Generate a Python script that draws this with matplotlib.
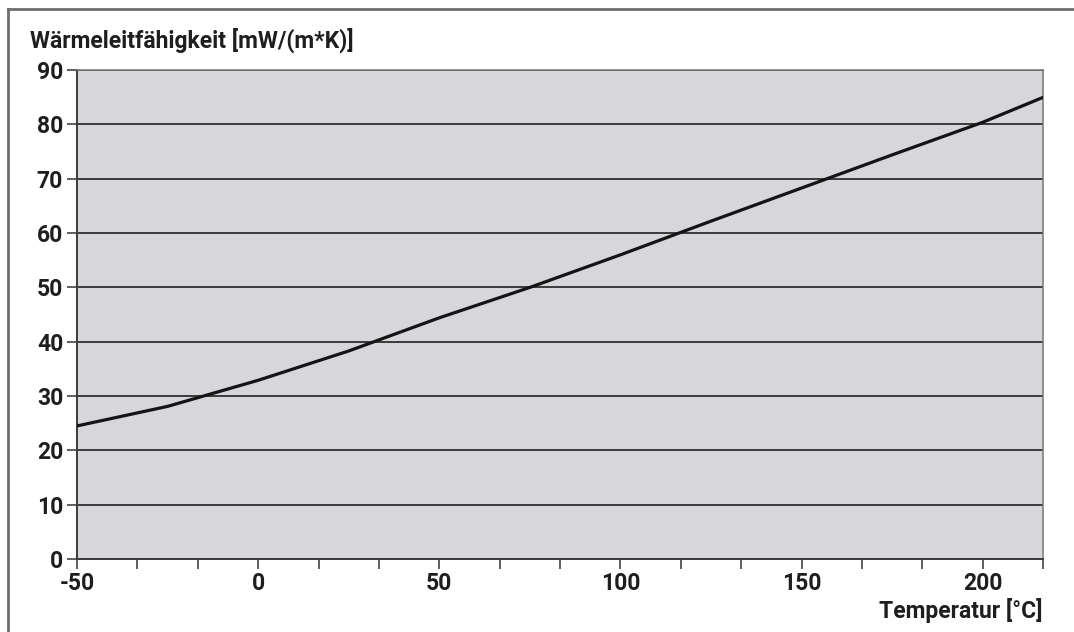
import matplotlib

matplotlib.use("Agg")
import matplotlib.pyplot as plt
from matplotlib.lines import Line2D

# Wärmeleitfähigkeit über Temperatur
temperatur = [-50, -25, 0, 25, 50, 75, 100, 125, 150, 175, 200, 216.7]
lambda_mw = [24.5, 28.1, 32.9, 38.3, 44.4, 50.0, 56.0, 62.2, 68.3, 74.4, 80.4, 85.0]

x_ticks = [-50 + i * 50 / 3 for i in range(17)]
x_labels = ["-50", "", "", "0", "", "", "50", "", "", "100", "", "", "150", "", "", "200", ""]
y_ticks = list(range(0, 100, 10))

plt.rcParams["font.family"] = ["Roboto", "Liberation Sans", "DejaVu Sans"]
plt.rcParams["font.weight"] = "semibold"
TXT = "#1e1e1e"
FS = 16.5

fig = plt.figure(figsize=(10.74, 6.32), dpi=100)
ax = fig.add_axes([0.0717, 0.1155, 0.8995, 0.7735])
ax.set_facecolor("#d7d7db")

ax.plot(temperatur, lambda_mw, color="#141414", lw=2.3, zorder=4)

ax.set_xlim(-50, 650 / 3)
ax.set_ylim(0, 90)
ax.set_xticks(x_ticks)
ax.set_xticklabels(x_labels)
ax.set_yticks(y_ticks)
ax.grid(axis="y", color="#2e2e2e", lw=1.3, zorder=1)
ax.set_axisbelow(True)
ax.tick_params(axis="both", labelsize=FS, colors="#333333", labelcolor=TXT,
               length=7, width=1.1)
ax.tick_params(axis="x", pad=2)
ax.tick_params(axis="y", pad=3)

for side in ("left", "bottom"):
    ax.spines[side].set_color("#3a3a3a")
    ax.spines[side].set_linewidth(1.4)
for side in ("top", "right"):
    ax.spines[side].set_color("#777777")
    ax.spines[side].set_linewidth(1.1)

fig.text(0.028, 0.924, "Wärmeleitfähigkeit [mW/(m*K)]", fontsize=FS,
         color=TXT, ha="left", va="baseline")
fig.text(0.971, 0.022, "Temperatur [°C]", fontsize=FS, color=TXT,
         ha="right", va="baseline")

# Rahmen oben und links
fig.add_artist(Line2D([0.0075, 1.0], [0.985, 0.985], transform=fig.transFigure,
                      color="#6e6e6e", lw=2.0))
fig.add_artist(Line2D([0.0075, 0.0075], [0.0, 0.985], transform=fig.transFigure,
                      color="#6e6e6e", lw=2.0))

fig.savefig("out.png", dpi=100)
